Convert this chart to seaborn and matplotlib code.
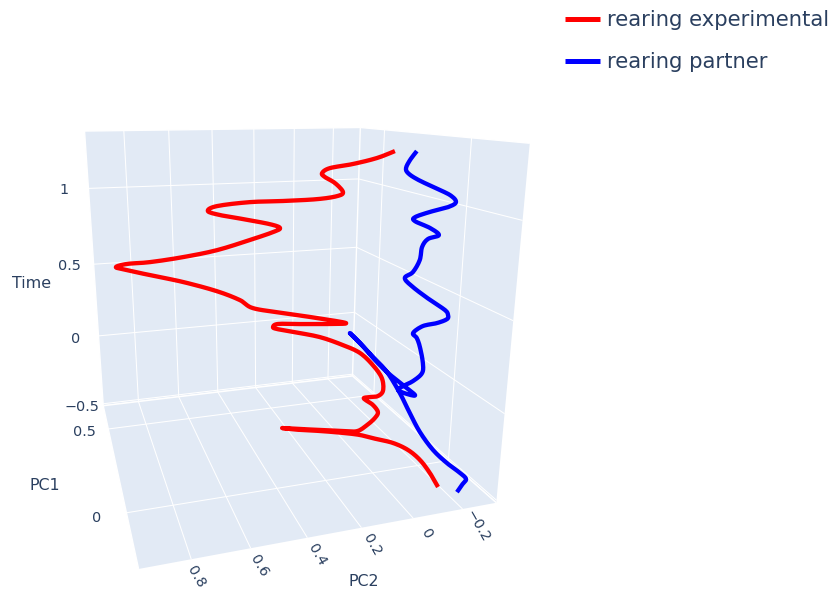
import numpy as np
import matplotlib
matplotlib.use('Agg')
import matplotlib.pyplot as plt
from mpl_toolkits.mplot3d import proj3d
import seaborn as sns

# ---- data ----
red_pc1 = [-129,-130,-131,-131,-132,-133,-134,-134,-135,-136,-137,-138,-138,-139,-140,-141,-141,-142,-143,
           -144,-144,-145,-146,-147,-147,-148,-149,-150,-150,-151,-152,-153,-153,-154,-155,-156,-157,-157,-158,
           -159,-160,-160,-161,-162,-163,-163,-164,-165,-166,-166,-167,-168,-169,-169,-170,-171,-172,-172,-173,
           -174,-175,-175,-176,-177,-178,-179,-179,-180,-181]
red_pc2 = [-187,-147,-101,-48,16,82,150,217,305,379,445,380,306,220,166,129,99,89,110,134,147,124,94,76,83,
           120,171,235,320,415,471,485,468,393,298,230,335,453,554,597,671,776,876,943,975,942,874,775,670,565,
           491,469,502,588,660,697,669,567,462,351,285,265,293,328,338,313,237,156,96]
red_time = [-505,-409,-319,-247,-191,-154,-115,-89,-59,-37,-12,-30,-50,-73,-84,-57,-23,9,53,80,99,101,102,130,
            199,275,348,399,453,493,516,528,541,531,519,515,555,595,632,676,727,781,823,853,869,880,882,895,917,
            954,984,1001,1021,1050,1073,1093,1113,1124,1123,1125,1135,1152,1194,1223,1241,1262,1277,1301,1330]
blue_pc1 = [-167,-167,-168,-168,-169,-169,-170,-170,-171,-172,-172,-173,-173,-174,-174,-175,-175,-176,-176,
            -177,-178,-178,-179,-179,-180,-180,-181,-181,-182,-183,-183,-184,-184,-185,-185,-186,-186,-187,-187,
            -188,-189,-189,-190,-190,-191,-191,-192,-192,-193,-194,-194,-195,-195]
blue_pc2 = [-236,-255,-270,-242,-182,-120,-61,-16,28,82,137,188,226,181,131,80,21,-28,4,40,22,-15,-48,-49,-33,
            -19,-3,-39,-92,-129,-132,-118,-58,10,42,14,-9,-14,-34,-73,-38,19,20,-33,-98,-126,-101,-37,23,56,64,52,30]
blue_time = [-505,-466,-433,-389,-315,-224,-108,8,127,250,338,418,475,408,323,247,173,110,122,151,170,190,228,282,
             370,419,448,479,488,504,525,553,612,685,733,760,817,880,917,933,970,1007,1026,1047,1066,1088,1123,
             1164,1203,1232,1255,1291,1330]
series_names = ['rearing experimental', 'rearing partner']
pc1_ticks = [0, 0.5]
pc1_labels = ['0', '0.5']
pc2_ticks = [-0.2, 0, 0.2, 0.4, 0.6, 0.8]
pc2_labels = ['\u22120.2', '0', '0.2', '0.4', '0.6', '0.8']
time_ticks = [-0.5, 0, 0.5, 1]
time_labels = ['\u22120.5', '0', '0.5', '1']
pc1_lim = (-0.2357, 0.6867)
pc2_lim = (-0.3414, 0.9694)
time_lim = (-0.515, 1.36)

# ---- style ----
W, H = 834, 596
TXT = '#2a3f5f'
sns.set_theme(style='white', rc={'grid.color': 'white', 'grid.linewidth': 0.75, 'axes.grid': True})
plt.rcParams['font.family'] = ['DejaVu Sans']
palette = sns.color_palette(['#ff0000', '#0000ff'])

fig = plt.figure(figsize=(W / 100, H / 100), dpi=100, facecolor='white')
S = 547.7
ax = fig.add_axes([-8.2 / W, (H - 582.5) / H, S / W, S / H], projection='3d', facecolor='none')
ax.view_init(elev=15.6596, azim=162.6133)
ax.set_proj_type('persp', focal_length=0.2457)
ax.set_box_aspect((1, 0.9857, 0.9772))
ax.set_xlim(*pc1_lim)
ax.set_ylim(*pc2_lim)
ax.set_zlim(*time_lim)

for axis in (ax.xaxis, ax.yaxis, ax.zaxis):
    axis.set_pane_color('#E2EAF5')
    axis.pane.set_edgecolor('white')
    axis.line.set_visible(False)
ax.set_xticks(pc1_ticks, labels=[''] * len(pc1_ticks))
ax.set_yticks(pc2_ticks, labels=[''] * len(pc2_ticks))
ax.set_zticks(time_ticks, labels=[''] * len(time_ticks))
for a in 'xyz':
    ax.tick_params(axis=a, color=(1, 1, 1, 0), length=0)


def curve_shape(values, sub=8):
    """Line shape only (like a spline line style): a curve through the read values, which stay as typed."""
    p = np.asarray(values, float) / 1000
    p = np.concatenate([[p[0]], p, [p[-1]]])
    u = (np.arange(sub) / sub)[:, None]
    a, b, c, d = p[:-3, None].T, p[1:-2, None].T, p[2:-1, None].T, p[3:, None].T
    out = 0.5 * (2 * b + (c - a) * u + (2 * a - 5 * b + 4 * c - d) * u ** 2 + (3 * b - a - 3 * c + d) * u ** 3)
    return np.append(out.T.ravel(), p[-2])


series = [(red_pc1, red_pc2, red_time), (blue_pc1, blue_pc2, blue_time)]
handles = []
for (p1, p2, t), c, nm in zip(series, palette, series_names):
    ln, = ax.plot(curve_shape(p1), curve_shape(p2), curve_shape(t), color=c, lw=3.1,
                  solid_joinstyle='round', solid_capstyle='butt', label=nm)
    handles.append(ln)

M = ax.get_proj()
def tick_label(x, y, z, s, off, size=10.4, rot=0):
    px, py, _ = proj3d.proj_transform(x, y, z, M)
    ax.annotate(s, (px, py), xycoords='data', xytext=off, textcoords='offset pixels', color=TXT,
                fontsize=size, rotation=rot, ha='center', va='center', annotation_clip=False)

for v, s in zip(time_ticks, time_labels):
    tick_label(pc1_lim[1], pc2_lim[1], v, s, {-0.5: (-21, -3), 0: (-23, -3), 0.5: (-24, -2), 1: (-24, -2)}[v])
for v, s, off in zip(pc1_ticks, pc1_labels, [(-30, -5), (-24, -3)]):
    tick_label(v, pc2_lim[1], time_lim[0], s, off)
for v, s, off in zip(pc2_ticks, pc2_labels, [(15, -17), (14, -16), (11, -17), (10, -17), (8, -18), (5, -18)]):
    tick_label(pc1_lim[0], v, time_lim[0], s, off, rot=-60)

fig.text(32 / W, 1 - 284 / H, 'Time', color=TXT, fontsize=11.4, ha='center', va='center')
fig.text(45 / W, 1 - 485 / H, 'PC1', color=TXT, fontsize=11.4, ha='center', va='center')
fig.text(364 / W, 1 - 582 / H, 'PC2', color=TXT, fontsize=11.4, ha='center', va='center')

leg = fig.legend(handles=handles, loc='upper left', bbox_to_anchor=(565 / W, 1 - 10 / H), frameon=False,
                 fontsize=15.2, labelcolor=TXT, borderpad=0, borderaxespad=0, handlelength=1.67,
                 handletextpad=0.3, labelspacing=1.05)
for h in leg.legend_handles:
    h.set_linewidth(3.6)

fig.savefig('out.png', dpi=100, facecolor='white')
